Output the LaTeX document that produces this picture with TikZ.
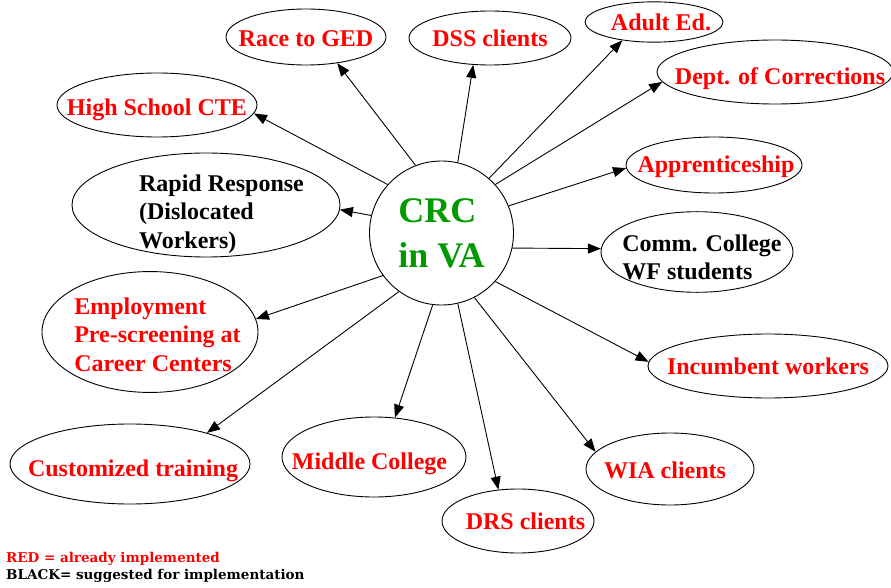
\documentclass[tikz,border=0pt]{standalone}
\usepackage{fontspec}
\setmainfont{Liberation Serif}
\newfontfamily\keyfont{DejaVu Serif}
\usetikzlibrary{shapes.geometric,arrows.meta}
\definecolor{crcgreen}{RGB}{0,153,0}

% text of a bubble, kept out of the ellipse size
% [twice the sideways offset][drop below centre]{lines}
\NewDocumentCommand{\bubbletext}{O{0pt} O{3pt} m}{%
  \makebox[0pt]{\hspace*{#1}\raisebox{-#2}[\height][\depth]{\begin{tabular}{@{}l@{}}#3\end{tabular}}}}

\begin{document}
\begin{tikzpicture}[x=1pt,y=-1pt]
    \tikzstyle{arrow} = [line width=0.9pt,->,>={Triangle[length=13pt,width=10pt]}]
    \tikzstyle{bubble} = [draw, ellipse, line width=0.9pt, inner sep=0pt, font=\fontsize{24}{28.5}\selectfont\bfseries]
    \tikzstyle{done} = [bubble, text=red]
    \useasboundingbox (0,0) rectangle (891,588);

    % Centre bubble
    \node [draw, circle, line width=0.9pt, minimum size=144pt, inner sep=0pt, align=left, text=crcgreen, font=\fontsize{36}{45}\selectfont\bfseries] (CRC) at (441.5,233) {CRC\\in VA};

    % Top row
    \node [done, minimum width=160pt, minimum height=56pt] (GED) at (306,37) {\bubbletext[0pt][4pt]{Race to GED}};
    \draw [arrow] (CRC.111) -- (GED.-40);

    \node [done, minimum width=162pt, minimum height=54pt] (DSS) at (490,38) {\bubbletext[0pt][3pt]{DSS clients}};
    \draw [arrow] (CRC.77) -- (DSS.-122);

    \node [done, minimum width=138pt, minimum height=38pt] (AdultEd) at (654,22) {\bubbletext[14pt][3pt]{Adult Ed.}};
    \draw [arrow] (CRC.49) -- (AdultEd.-150);

    \node [done, minimum width=236pt, minimum height=64pt] (Corrections) at (775,72) {\bubbletext[10pt][7pt]{Dept. of Corrections}};
    \draw [arrow] (CRC.42) -- (Corrections.-175);

    % Left side
    \node [done, minimum width=200pt, minimum height=64pt] (CTE) at (157,105) {\bubbletext[0pt][5pt]{High School CTE}};
    \draw [arrow] (CRC.138) -- (CTE.-5);

    \node [bubble, minimum width=268pt, minimum height=104pt, inner ysep=-9pt] (Rapid) at (206,205) {\bubbletext[31pt][9pt]{Rapid Response\\(Dislocated\\Workers)}};
    \draw [arrow] (CRC.166) -- (Rapid.-2);

    \node [done, minimum width=216pt, minimum height=120pt] (Screening) at (150,332) {\bubbletext[15pt][5pt]{Employment\\Pre-screening at\\Career Centers}};
    \draw [arrow] (CRC.-144) -- (Screening.7);

    % Right side
    \node [done, minimum width=176pt, minimum height=56pt] (Apprentice) at (714,165) {\bubbletext[4pt][2pt]{Apprenticeship}};
    \draw [arrow] (CRC.22) -- (Apprentice.-178);

    \node [bubble, minimum width=192pt, minimum height=72pt] (CommCollege) at (697,252) {\bubbletext[10pt][8pt]{Comm. College\\WF students}};
    \draw [arrow] (CRC.-12) -- (CommCollege.178);

    \node [done, minimum width=240pt, minimum height=64pt] (Incumbent) at (768,366) {\bubbletext[0pt][3pt]{Incumbent workers}};
    \draw [arrow] (CRC.-42) -- (Incumbent.178);

    % Bottom row
    \node [done, minimum width=240pt, minimum height=80pt] (Customized) at (130,464) {\bubbletext[6pt][7pt]{Customized training}};
    \draw [arrow] (CRC.-126) -- (Customized.22);

    \node [done, minimum width=184pt, minimum height=80pt] (MiddleCollege) at (374,457) {\bubbletext[-9pt][7pt]{Middle College}};
    \draw [arrow] (CRC.-97) -- (MiddleCollege.62);

    \node [done, minimum width=152pt, minimum height=64pt] (DRS) at (518,521) {\bubbletext[15pt][3pt]{DRS clients}};
    \draw [arrow] (CRC.-77) -- (DRS.122);

    \node [done, minimum width=168pt, minimum height=72pt] (WIA) at (670,469) {\bubbletext[-10pt][4pt]{WIA clients}};
    \draw [arrow] (CRC.-63) -- (WIA.167);

    % Key
    \node [anchor=base west, inner sep=0pt, text=red, font=\keyfont\bfseries\fontsize{13.5}{17}\selectfont] (RedKey) at (6,562) {RED = already implemented};
    \node [anchor=base west, inner sep=0pt, font=\keyfont\bfseries\fontsize{13.5}{17}\selectfont] (BlackKey) at (6,579) {BLACK= suggested for implementation};
\end{tikzpicture}
\end{document}
